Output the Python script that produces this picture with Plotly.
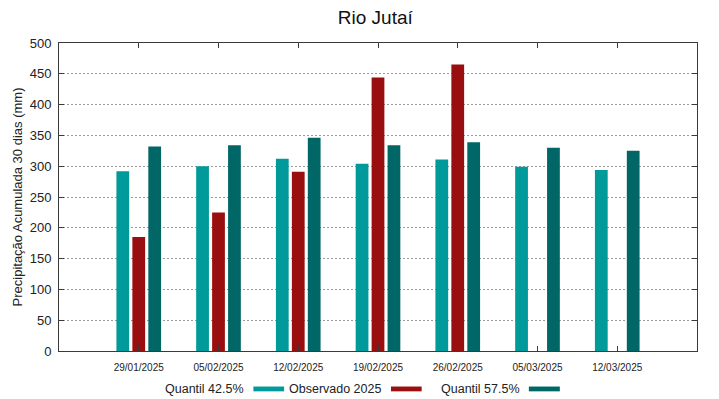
import plotly.graph_objects as go

dates = ["29/01/2025", "05/02/2025", "12/02/2025", "19/02/2025", "26/02/2025", "05/03/2025", "12/03/2025"]
q425 = [292, 300, 312, 304, 311, 299, 294]
obs2025 = [185, 225, 291, 444, 465, None, None]
q575 = [332, 334, 346, 334, 339, 330, 325]

series_names = ["Quantil 42.5%", "Observado 2025", "Quantil 57.5%"]
colors = ["#009a9a", "#990e0e", "#006666"]

xpos = list(range(1, len(dates) + 1))
FONT = "Liberation Sans, Arial, sans-serif"

fig = go.Figure()
for name, vals, c in zip(series_names, [q425, obs2025, q575], colors):
    fig.add_trace(go.Bar(x=xpos, y=vals, name=name, marker=dict(color=c, line=dict(width=0)),
                         showlegend=False, hoverinfo="skip"))

axis_common = dict(showline=True, linecolor="#3a3a3a", linewidth=1, mirror="ticks",
                   ticks="inside", ticklen=5, tickcolor="#3a3a3a", zeroline=False)

fig.update_layout(
    width=719, height=399,
    margin=dict(l=59, r=22, t=43, b=48),
    paper_bgcolor="white", plot_bgcolor="white",
    barmode="group", bargap=0.4, bargroupgap=0.2,
    font=dict(family=FONT, color="#222222"),
    title=dict(text="Rio Jutaí", x=0.522, xanchor="center", y=1 - 17 / 399, yanchor="middle",
               font=dict(size=19, family=FONT, color="#111111")),
    xaxis=dict(range=[0, 8], tickvals=xpos, ticktext=dates, showgrid=False, ticklabelstandoff=7,
               tickfont=dict(size=10, color="#222222"), **axis_common),
    yaxis=dict(range=[0, 500], tick0=0, dtick=50, showgrid=True, gridcolor="#9a9a9a",
               griddash="2px,2px", gridwidth=1, tickfont=dict(size=13, color="#222222"),
               ticklabelstandoff=4,
               title=dict(text="Precipitação Acumulada 30 dias (mm)", font=dict(size=13, color="#222222"),
                          standoff=4),
               **axis_common),
)

# custom legend: text followed by swatch
plot_l, plot_r = 58.7, 697.3
plot_t, plot_b = 43.0, 350.7
def px2x(p):
    return (p - plot_l) / (plot_r - plot_l)
def py2y(p):
    return (plot_b - p) / (plot_b - plot_t)

legend_items = [(245.7, 253.3, 284.0), (383.3, 391.0, 421.7), (521.7, 529.0, 560.0)]
for (tx, s0, s1), name, c in zip(legend_items, series_names, colors):
    fig.add_annotation(x=px2x(tx), y=py2y(388.3), xref="paper", yref="paper", text=name,
                       showarrow=False, xanchor="right", yanchor="middle",
                       font=dict(size=12.5, family=FONT, color="#222222"))
    fig.add_shape(type="rect", xref="paper", yref="paper", x0=px2x(s0), x1=px2x(s1),
                  y0=py2y(386.2), y1=py2y(391.0), fillcolor=c, line=dict(width=0))

fig.write_html("out.html", config={"displayModeBar": False, "staticPlot": True})

with open("out.html", "r", encoding="utf-8") as f:
    html = f.read()
html = html.replace("<head>", "<head><style>html,body{margin:0;padding:0;overflow:hidden;}</style>", 1)
with open("out.html", "w", encoding="utf-8") as f:
    f.write(html)
